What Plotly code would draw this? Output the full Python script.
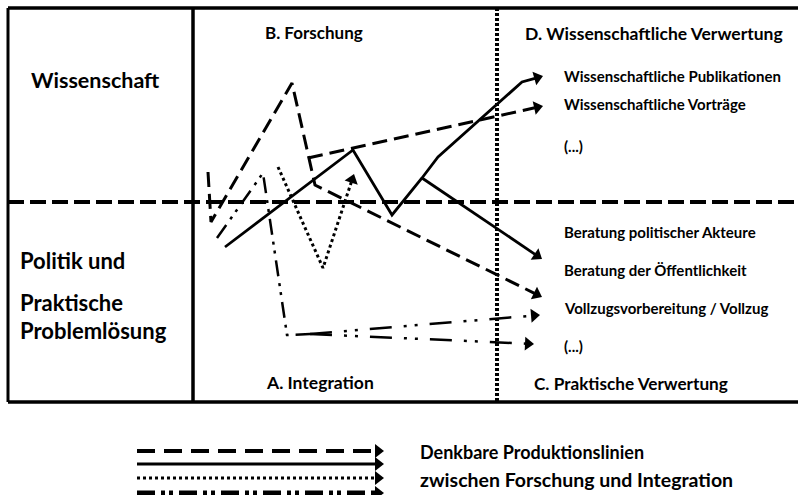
import math
import plotly.graph_objects as go

# ---------------- data (diagram coordinates, px-like units) ----------------
W, H = 798, 495

# frame / grid
frame_left, frame_right, frame_top, frame_bottom = 8, 798, 8, 402
divider_x = 193
middle_y = 202
verwertung_x = 497

# production lines (paths through the diagram)
longdash_x = [208, 211, 292, 315, 542]
longdash_y = [172, 222, 83, 185, 297]
longdash_branch_x = [308, 543]
longdash_branch_y = [158, 106]

solid_x = [225, 353, 392, 422, 438, 522, 543]
solid_y = [247, 150, 215, 178, 157, 82, 76]
solid_branch_x = [422, 542]
solid_branch_y = [178, 259]

dotted_x = [278, 323, 354]
dotted_y = [167, 268, 174]

dashdot_x = [217, 263, 287, 310]
dashdot_y = [238, 173, 335, 334]
dashdot_up_x = [310, 540]
dashdot_up_y = [334, 315]
dashdot_low_x = [310, 534]
dashdot_low_y = [334, 344]

# texts
row_labels = ["Wissenschaft", "Politik und", "Praktische", "Problemlösung"]
quadrant_labels = ["B. Forschung", "D. Wissenschaftliche Verwertung",
                   "A. Integration", "C. Praktische Verwertung"]
outputs_top = ["Wissenschaftliche Publikationen", "Wissenschaftliche Vorträge", "(...)"]
outputs_bottom = ["Beratung politischer Akteure", "Beratung der Öffentlichkeit",
                  "Vollzugsvorbereitung / Vollzug", "(...)"]
legend_text = ["Denkbare Produktionslinien", "zwischen Forschung und Integration"]

# legend sample lines
legend_x = [137, 384]
legend_rows_y = [451, 464, 478, 493]

FONT = "Lato"

fig = go.Figure()


def add_path(xs, ys, width, dash, arrow=False, head=12):
    xs = list(xs)
    ys = list(ys)
    if arrow:
        dx = xs[-1] - xs[-2]
        dy = ys[-1] - ys[-2]
        L = math.hypot(dx, dy)
        ux, uy = dx / L, dy / L
        tipx, tipy = xs[-1], ys[-1]
        cx, cy = tipx - ux * head * 0.5, tipy - uy * head * 0.5
        xs[-1] = tipx - ux * head * 0.7
        ys[-1] = tipy - uy * head * 0.7
        fig.add_trace(go.Scatter(
            x=[cx - ux * 20, cx], y=[cy - uy * 20, cy], mode="markers",
            marker=dict(symbol="triangle-up", size=[0, head], color="black",
                        opacity=1, angleref="previous", line=dict(width=0)),
            hoverinfo="skip", showlegend=False))
    fig.add_trace(go.Scatter(x=xs, y=ys, mode="lines",
                             line=dict(color="black", width=width, dash=dash),
                             hoverinfo="skip", showlegend=False))


# frame
add_path([frame_left, frame_right], [frame_top, frame_top], 3.5, "solid")
add_path([frame_left, frame_right], [frame_bottom, frame_bottom], 3.5, "solid")
add_path([frame_left, frame_left], [frame_top, frame_bottom], 3, "solid")
add_path([divider_x, divider_x], [frame_top, frame_bottom], 3.5, "solid")
add_path([frame_left, frame_right], [middle_y, middle_y], 4, "16px,6px")
add_path([verwertung_x, verwertung_x], [frame_top, frame_bottom], 4, "3px,2px")

# production lines
add_path(longdash_x, longdash_y, 3, "15px,7px", arrow=True)
add_path(longdash_branch_x, longdash_branch_y, 3, "15px,7px", arrow=True)
add_path(solid_x, solid_y, 2.8, "solid", arrow=True)
add_path(solid_branch_x, solid_branch_y, 2.8, "solid", arrow=True)
add_path(dotted_x, dotted_y, 3, "3px,3px", arrow=True)
add_path(dashdot_x, dashdot_y, 2.5, "16px,7px,3px,6px,3px,7px")
add_path(dashdot_up_x, dashdot_up_y, 2.5, "22px,12px,3px,8px,3px,12px", arrow=True)
add_path(dashdot_low_x, dashdot_low_y, 2.5, "22px,12px,3px,8px,3px,12px", arrow=True)

# legend lines
add_path(legend_x, [legend_rows_y[0]] * 2, 4, "18px,9px", arrow=True)
add_path(legend_x, [legend_rows_y[1]] * 2, 3, "solid", arrow=True)
add_path(legend_x, [legend_rows_y[2]] * 2, 3, "3px,3px", arrow=True)
add_path(legend_x, [legend_rows_y[3]] * 2, 5, "18px,6px,4px,4px,4px,6px", arrow=True)


def txt(s, x, y, size, anchor="left"):
    fig.add_annotation(x=x, y=y, text="<b>%s</b>" % s, showarrow=False,
                       xref="x", yref="y", xanchor=anchor, yanchor="middle",
                       font=dict(family=FONT, size=size, color="black"))


txt(row_labels[0], 95, 80, 21.5, "center")
txt(row_labels[1], 18, 260, 22)
txt(row_labels[2], 18, 302, 22)
txt(row_labels[3], 18, 330, 22)

txt(quadrant_labels[0], 314, 32, 17, "center")
txt(quadrant_labels[1], 523, 33, 17.5)
txt(quadrant_labels[2], 320, 382, 17.5, "center")
txt(quadrant_labels[3], 532, 383, 17.2)

for s, yy in zip(outputs_top, [76, 104, 146]):
    txt(s, 562, yy, 15)
for s, yy in zip(outputs_bottom, [232, 270, 308, 346]):
    txt(s, 562, yy, 15)

txt(legend_text[0], 418, 452, 18)
txt(legend_text[1], 418, 479, 19.5)

fig.update_layout(
    width=W, height=H,
    margin=dict(l=0, r=0, t=0, b=0),
    paper_bgcolor="white", plot_bgcolor="white",
    xaxis=dict(range=[0, W], visible=False, fixedrange=True),
    yaxis=dict(range=[H, 0], visible=False, fixedrange=True),
    showlegend=False,
)

fig.write_html("out.html", config={"displayModeBar": False},
               post_script="document.body.style.margin='0';document.body.style.padding='0';")
